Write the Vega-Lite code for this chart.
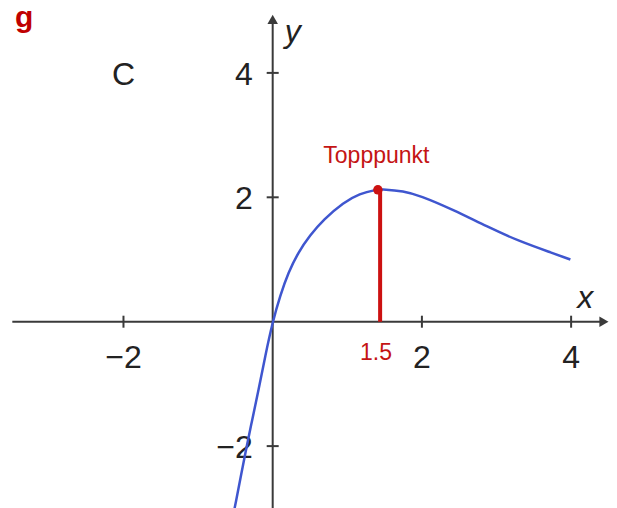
{
  "$schema": "https://vega.github.io/schema/vega-lite/v6.json",
  "width": 617,
  "height": 508,
  "autosize": {"type": "none"},
  "padding": 0,
  "background": "white",
  "config": {"view": {"stroke": null}},
  "datasets": {
    "curve": [
      {"x": -0.56, "y": -3.3},
      {"x": -0.51, "y": -3.0},
      {"x": -0.35, "y": -2.01},
      {"x": -0.28, "y": -1.61},
      {"x": -0.19, "y": -1.1},
      {"x": -0.10, "y": -0.55},
      {"x": 0.0, "y": 0.0},
      {"x": 0.10, "y": 0.42},
      {"x": 0.21, "y": 0.79},
      {"x": 0.34, "y": 1.11},
      {"x": 0.50, "y": 1.39},
      {"x": 0.68, "y": 1.64},
      {"x": 0.95, "y": 1.92},
      {"x": 1.17, "y": 2.06},
      {"x": 1.37, "y": 2.12},
      {"x": 1.5, "y": 2.13},
      {"x": 1.75, "y": 2.1},
      {"x": 1.97, "y": 2.03},
      {"x": 2.42, "y": 1.8},
      {"x": 2.87, "y": 1.53},
      {"x": 3.31, "y": 1.29},
      {"x": 3.76, "y": 1.1},
      {"x": 3.99, "y": 1.0}
    ],
    "xaxis": [{"x": -3.49, "x2": 4.42, "y": 0}],
    "yaxis": [{"x": 0, "y": -3.2, "y2": 4.85}],
    "xticks": [{"v": -2, "label": "−2"}, {"v": 2, "label": "2"}, {"v": 4, "label": "4"}],
    "yticks": [{"v": 4, "label": "4"}, {"v": 2, "label": "2"}, {"v": -2, "label": "−2"}],
    "xarrow": [{"x": 4.44, "y": 0}],
    "yarrow": [{"x": 0, "y": 4.86}],
    "top": [{"x": 1.44, "y": 2.12, "y0": 0}],
    "dot": [{"x": 1.41, "y": 2.12}],
    "toptext": [{"x": 1.39, "y": 2.55, "t": "Topppunkt"}],
    "xval": [{"x": 1.385, "y": -0.61, "t": "1.5"}],
    "gtext": [{"x": -3.33, "y": 4.74, "t": "g"}],
    "ctext": [{"x": -2.0, "y": 3.97, "t": "C"}],
    "xname": [{"x": 4.19, "y": 0.22, "t": "x"}],
    "yname": [{"x": 0.27, "y": 4.5, "t": "y"}]
  },
  "encoding": {
    "x": {"type": "quantitative", "scale": {"domain": [-3.655, 4.615], "nice": false, "zero": false}, "axis": null},
    "y": {"type": "quantitative", "scale": {"domain": [-2.995, 5.172], "nice": false, "zero": false}, "axis": null}
  },
  "layer": [
    {
      "data": {"name": "xaxis"},
      "mark": {"type": "rule", "color": "#3a3a3a", "strokeWidth": 2},
      "encoding": {"x": {"field": "x", "type": "quantitative"}, "x2": {"field": "x2"}, "y": {"field": "y", "type": "quantitative"}}
    },
    {
      "data": {"name": "yaxis"},
      "mark": {"type": "rule", "color": "#3a3a3a", "strokeWidth": 2},
      "encoding": {"x": {"field": "x", "type": "quantitative"}, "y": {"field": "y", "type": "quantitative"}, "y2": {"field": "y2"}}
    },
    {
      "data": {"name": "xarrow"},
      "mark": {"type": "point", "shape": "triangle-right", "filled": true, "color": "#3a3a3a", "size": 110, "opacity": 1},
      "encoding": {"x": {"field": "x", "type": "quantitative"}, "y": {"field": "y", "type": "quantitative"}}
    },
    {
      "data": {"name": "yarrow"},
      "mark": {"type": "point", "shape": "triangle-up", "filled": true, "color": "#3a3a3a", "size": 110, "opacity": 1},
      "encoding": {"x": {"field": "x", "type": "quantitative"}, "y": {"field": "y", "type": "quantitative"}}
    },
    {
      "data": {"name": "xticks"},
      "mark": {"type": "tick", "orient": "vertical", "color": "#3a3a3a", "thickness": 2, "size": 12, "opacity": 1},
      "encoding": {"x": {"field": "v", "type": "quantitative"}, "y": {"datum": 0, "type": "quantitative"}}
    },
    {
      "data": {"name": "yticks"},
      "mark": {"type": "tick", "orient": "horizontal", "color": "#3a3a3a", "thickness": 2, "size": 12, "opacity": 1},
      "encoding": {"y": {"field": "v", "type": "quantitative"}, "x": {"datum": 0, "type": "quantitative"}}
    },
    {
      "data": {"name": "xticks"},
      "mark": {"type": "text", "font": "Liberation Sans", "fontSize": 32, "color": "#222222", "align": "center", "baseline": "alphabetic", "dy": 46},
      "encoding": {"x": {"field": "v", "type": "quantitative"}, "y": {"datum": 0, "type": "quantitative"}, "text": {"field": "label"}}
    },
    {
      "data": {"name": "yticks"},
      "mark": {"type": "text", "font": "Liberation Sans", "fontSize": 32, "color": "#222222", "align": "right", "baseline": "alphabetic", "dx": -20, "dy": 12},
      "encoding": {"y": {"field": "v", "type": "quantitative"}, "x": {"datum": 0, "type": "quantitative"}, "text": {"field": "label"}}
    },
    {
      "data": {"name": "curve"},
      "mark": {"type": "line", "color": "#3f56cf", "strokeWidth": 2.5, "interpolate": "basis", "clip": true},
      "encoding": {"x": {"field": "x", "type": "quantitative"}, "y": {"field": "y", "type": "quantitative"}}
    },
    {
      "data": {"name": "top"},
      "mark": {"type": "rule", "color": "#cc1111", "strokeWidth": 4},
      "encoding": {"x": {"field": "x", "type": "quantitative"}, "y": {"field": "y", "type": "quantitative"}, "y2": {"field": "y0"}}
    },
    {
      "data": {"name": "dot"},
      "mark": {"type": "point", "shape": "circle", "filled": true, "color": "#cc1111", "size": 90, "opacity": 1},
      "encoding": {"x": {"field": "x", "type": "quantitative"}, "y": {"field": "y", "type": "quantitative"}}
    },
    {
      "data": {"name": "toptext"},
      "mark": {"type": "text", "font": "Liberation Sans", "fontSize": 23, "color": "#c41414", "align": "center", "baseline": "alphabetic"},
      "encoding": {"x": {"field": "x", "type": "quantitative"}, "y": {"field": "y", "type": "quantitative"}, "text": {"field": "t"}}
    },
    {
      "data": {"name": "xval"},
      "mark": {"type": "text", "font": "Liberation Sans", "fontSize": 23, "color": "#c41414", "align": "center", "baseline": "alphabetic"},
      "encoding": {"x": {"field": "x", "type": "quantitative"}, "y": {"field": "y", "type": "quantitative"}, "text": {"field": "t"}}
    },
    {
      "data": {"name": "gtext"},
      "mark": {"type": "text", "font": "Liberation Sans", "fontSize": 30, "fontWeight": "bold", "color": "#c00000", "align": "center", "baseline": "alphabetic"},
      "encoding": {"x": {"field": "x", "type": "quantitative"}, "y": {"field": "y", "type": "quantitative"}, "text": {"field": "t"}}
    },
    {
      "data": {"name": "ctext"},
      "mark": {"type": "text", "font": "Liberation Sans", "fontSize": 32, "color": "#222222", "align": "center", "baseline": "middle"},
      "encoding": {"x": {"field": "x", "type": "quantitative"}, "y": {"field": "y", "type": "quantitative"}, "text": {"field": "t"}}
    },
    {
      "data": {"name": "xname"},
      "mark": {"type": "text", "font": "Liberation Sans", "fontSize": 32, "fontStyle": "italic", "color": "#222222", "align": "center", "baseline": "alphabetic"},
      "encoding": {"x": {"field": "x", "type": "quantitative"}, "y": {"field": "y", "type": "quantitative"}, "text": {"field": "t"}}
    },
    {
      "data": {"name": "yname"},
      "mark": {"type": "text", "font": "Liberation Sans", "fontSize": 32, "fontStyle": "italic", "color": "#222222", "align": "center", "baseline": "alphabetic"},
      "encoding": {"x": {"field": "x", "type": "quantitative"}, "y": {"field": "y", "type": "quantitative"}, "text": {"field": "t"}}
    }
  ]
}
